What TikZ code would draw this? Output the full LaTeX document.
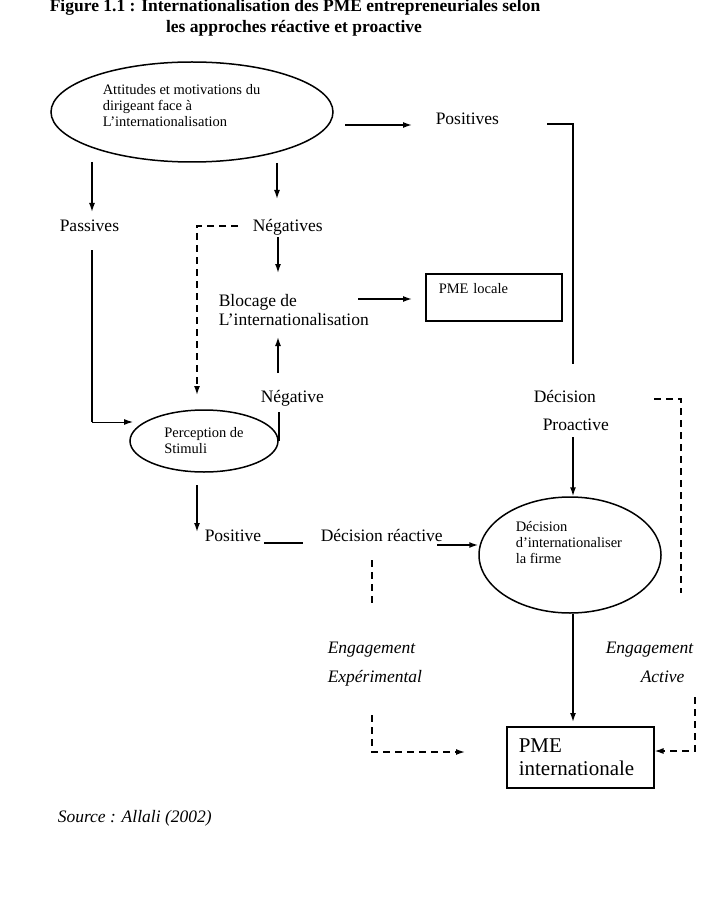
\documentclass[tikz,border=0pt]{standalone}
\usepackage{fontspec}
\setmainfont{Liberation Serif}
\usetikzlibrary{shapes.geometric,arrows.meta}

\begin{document}
\begin{tikzpicture}[x=1pt,y=-1pt,line width=1.5pt,
    >={Latex[length=9pt,width=6pt]},
    lbl/.style={inner sep=0pt,anchor=base west,font=\fontsize{17.5}{21}\selectfont},
    ilbl/.style={lbl,font=\fontsize{17.5}{21}\selectfont\itshape},
    small/.style={inner sep=0pt,align=left,font=\fontsize{14.5}{16}\selectfont},
    oval/.style={draw,ellipse,inner sep=0pt},
    dashes/.style={dash pattern=on 7pt off 5pt}]
  \useasboundingbox (0,0) rectangle (706,901);

  % titre
  \node[lbl,anchor=base,font=\fontsize{17.5}{21}\selectfont\bfseries] (tit1) at (295,12)
    {Figure 1.1 : Internationalisation des PME entrepreneuriales selon};
  \node[lbl,anchor=base,font=\fontsize{17.5}{21}\selectfont\bfseries] (tit2) at (294,33)
    {les approches réactive et proactive};

  % ovales
  \node[oval,minimum width=282pt,minimum height=100pt] (att) at (192,112) {};
  \node[small,anchor=west] (atttxt) at (102,106)
    {Attitudes et motivations du\\dirigeant face à\\L’internationalisation};
  \node[oval,small,minimum width=148pt,minimum height=62pt] (per) at (204,441)
    {Perception de\\Stimuli};
  \node[oval,minimum width=182pt,minimum height=116pt] (fir) at (570,555) {};
  \node[small,anchor=west] (firtxt) at (515,543)
    {Décision\\d’internationaliser\\la firme};

  % boites
  \node[draw,anchor=north west,inner xsep=13pt,inner ysep=8pt,text width=110pt,
    text height=12pt,text depth=19pt,font=\fontsize{14.5}{16}\selectfont] (loc) at (425,273) {PME locale};
  \node[draw,anchor=north west,inner xsep=12pt,inner ysep=0pt,text width=123pt,
    minimum height=61pt,align=left,font=\fontsize{21}{23}\selectfont] (int) at (506,726)
    {PME\\internationale};

  % textes
  \node[lbl] (pos) at (435,125) {Positives};
  \node[lbl] (pas) at (59,231) {Passives};
  \node[lbl] (neg) at (252,231) {Négatives};
  \node[lbl,anchor=north west,align=left,font=\fontsize{17.5}{19}\selectfont] (blo) at (218,294)
    {Blocage de\\L’internationalisation};
  \node[lbl] (nga) at (260,402) {Négative};
  \node[lbl] (dec) at (533,402) {Décision};
  \node[lbl] (pro) at (542,430) {Proactive};
  \node[lbl] (psv) at (204,541) {Positive};
  \node[lbl] (rea) at (320,541) {Décision réactive};
  \node[ilbl] (eng1) at (327,653) {Engagement};
  \node[ilbl] (exp) at (327,682) {Expérimental};
  \node[ilbl] (eng2) at (605,653) {Engagement};
  \node[ilbl] (act) at (640,682) {Active};
  \node[ilbl] (src) at (57,822) {Source : Allali (2002)};

  % points
  \coordinate (attR) at (345,125);
  \coordinate (posL) at (412,125);
  \coordinate (posR) at (547,124);
  \coordinate (decT) at (573,364);
  \coordinate (proB) at (573,437);
  \coordinate (decR) at (654,399);
  \coordinate (decD) at (681,593);
  \coordinate (actT) at (695,697);
  \coordinate (actB) at (695,751);
  \coordinate (reaT) at (372,560);
  \coordinate (reaM) at (372,607);
  \coordinate (expB) at (372,715);
  \coordinate (expC) at (372,752);
  \coordinate (expE) at (465,752);
  \coordinate (reaR) at (437,545);
  \coordinate (psvR) at (264,543);
  \coordinate (perB) at (197,485);
  \coordinate (pasT) at (92,162);
  \coordinate (pasB) at (92,250);
  \coordinate (perL) at (133,422);
  \coordinate (negT) at (277,163);
  \coordinate (negB) at (278,237);
  \coordinate (negL) at (238,226);
  \coordinate (bloR) at (358,299);
  \coordinate (ngaB) at (278,373);

  % liaisons
  \draw[->] (attR) -- (posL);
  \draw (posR) -| (decT);
  \draw[->] (proB) -- (proB |- fir.north);
  \draw[dashes] (decR) -| (decD);
  \draw[->] (fir.south -| proB) -- ([yshift=4pt]int.north -| proB);
  \draw[dashes,->] (actT) -- (actB) -- (actB -| int.east);
  \draw[dashes] (reaT) -- (reaM);
  \draw[dashes,->] (expB) -- (expC) -- (expE);
  \draw[->] (reaR) -- (reaR -| fir.west);
  \draw (psvR) -- ++(39,0);
  \draw[->] (perB) -- ++(0,47);
  \draw[->] (pasT) -- ++(0,50);
  \draw (pasB) -- (pasB |- perL);
  \draw[->,line width=1pt] (pasB |- perL) -- (perL);
  \draw[->] (negT) -- ++(0,36);
  \draw[->] (negB) -- ++(0,36);
  \draw[dashes,->] (negL) -| (197,395);
  \draw[->] (bloR) -- ++(54,0);
  \draw (per.east) -- ++(0,-29);
  \draw[->] (ngaB) -- ++(0,-36);
\end{tikzpicture}
\end{document}
